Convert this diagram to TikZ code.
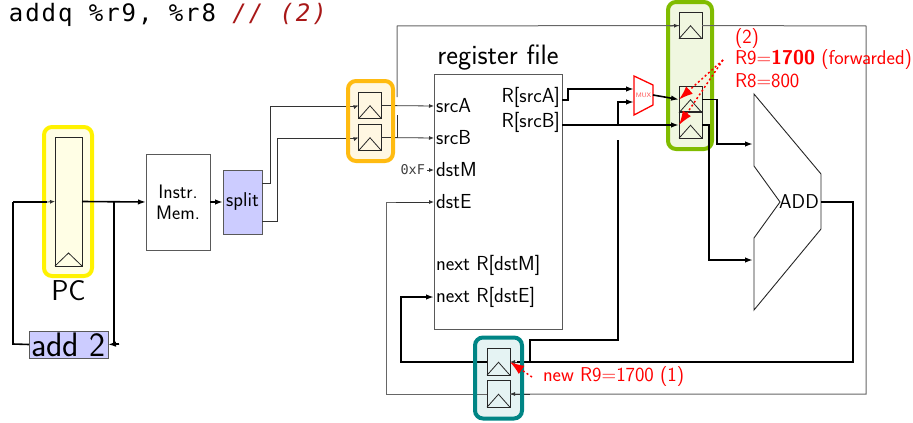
\documentclass[tikz,border=0pt]{standalone}
\usepackage{fontspec}
\usepackage{tikz}
\usetikzlibrary{arrows.meta, positioning, calc}
\setmonofont{DejaVu Sans Mono}
\newfontfamily\codefont[LetterSpace=8]{DejaVu Sans Mono}
\definecolor{aluviolet}{HTML}{CCCCFF}
\definecolor{codered}{HTML}{A81818}
\definecolor{pcyellow}{HTML}{FFF200}
\definecolor{decamber}{HTML}{FFBB11}
\definecolor{exgreen}{HTML}{80BC00}
\definecolor{memteal}{HTML}{008585}
\tikzset{%
	every node/.style={
		font=\sffamily,
		inner sep=0pt,
		outer sep=0pt
	},
	regbox/.style={
		draw=black!85,
		line width=0.8pt,
		minimum width=23pt,
		minimum height=26.5pt
	},
	plainbox/.style={
		draw=black!65,
		line width=0.9pt,
		fill=white,
		align=center
	},
	bluebox/.style={
		draw=black!65,
		line width=0.9pt,
		fill=aluviolet
	},
	stagebox/.style={
		rounded corners=8pt,
		line width=4pt
	},
	portlabel/.style={
		anchor=west,
		font=\sffamily\fontsize{20.3}{22}\selectfont
	},
	redlabel/.style={
		anchor=west,
		text=red,
		font=\sffamily\fontsize{20}{21}\selectfont
	},
	wire/.style={
		draw=black!80,
		line width=0.8pt,
		-{Latex[length=5pt,width=4pt]}
	},
	plainwire/.style={
		draw=black!80,
		line width=0.8pt
	},
	loopwire/.style={
		draw=black!60,
		line width=1pt
	},
	thickwire/.style={
		draw=black,
		line width=1.6pt,
		-{Latex[length=8pt,width=5.5pt]}
	},
	plainthick/.style={
		draw=black,
		line width=1.6pt
	},
	redarrow/.style={
		draw=red,
		line width=1.5pt,
		dash pattern=on 2pt off 2.5pt,
		-{Latex[length=14pt,width=10pt]}
	}
}

\begin{document}
\begin{tikzpicture}[x=1pt,y=-1pt]
	\useasboundingbox (0,0) rectangle (913,423);

	% title line
	\node[anchor=base west] (title) at (9,21) {\codefont\fontsize{24}{24}\selectfont addq \%r9, \%r8 \textcolor{codered}{\itshape // (2)}};

	% stage highlights
	\node[stagebox, draw=pcyellow, fill=pcyellow!10, minimum width=48pt, minimum height=149pt] (pchl) at (68,201.5) {};
	\node[stagebox, fill=decamber!12, minimum width=45pt, minimum height=80pt] (dechl) at (370.5,121) {};
	\node[stagebox, draw=exgreen, fill=exgreen!12, minimum width=44pt, minimum height=147pt] (exhl) at (690,75.5) {};
	\node[stagebox, fill=memteal!10, minimum width=47pt, minimum height=81pt] (memhl) at (498.5,378) {};

	% boxes
	\node[plainbox, minimum width=64pt, minimum height=96pt, font=\sffamily\fontsize{19.5}{21}\selectfont] (imem) at (178,202) {Instr.\\Mem.};
	\node[bluebox, minimum width=39pt, minimum height=64pt, font=\sffamily\fontsize{20}{22}\selectfont] (split) at (242.5,202) {split};
	\node[bluebox, minimum width=79pt, minimum height=27pt, font=\sffamily\fontsize{34}{36}\selectfont] (addtwo) at (68.5,344.5) {add 2};
	\node[plainbox, minimum width=128pt, minimum height=255pt] (regfile) at (498,201.5) {};
	\node[font=\sffamily\fontsize{28}{30}\selectfont] (regtitle) at (498,58) {register file};
	\node (pclabel) at (68.5,291) {\fontsize{28.7}{30}\selectfont PC};

	% register file ports
	\node[portlabel] (srcA) at (436,106) {srcA};
	\node[portlabel] (srcB) at (436,138) {srcB};
	\node[portlabel] (dstM) at (436,170) {dstM};
	\node[portlabel] (dstE) at (436,202) {dstE};
	\node[portlabel] (nextM) at (436,265) {next R[dstM]};
	\node[portlabel] (nextE) at (436,297) {next R[dstE]};
	\node[portlabel, anchor=east] (valA) at (560,97) {R[srcA]};
	\node[portlabel, anchor=east] (valB) at (560,122) {R[srcB]};
	\node[anchor=east, text=black!75, font=\ttfamily\fontsize{13.5}{14}\selectfont] (constF) at (425,170) {0xF};

	% pipeline registers
	\node[regbox, minimum width=27pt, minimum height=129pt] (pcreg) at (68.5,201.5) {};
	\node[regbox] (dec1) at (370,105.5) {};
	\node[regbox] (dec2) at (370,137.5) {};
	\node[regbox] (ex0) at (690.5,25.5) {};
	\node[regbox] (ex1) at (690.5,99.5) {};
	\node[regbox] (ex2) at (690.5,125) {};
	\node[regbox] (mem1) at (498.5,362) {};
	\node[regbox] (mem2) at (498.5,394) {};
	\foreach \r in {pcreg,dec1,dec2,ex0,ex1,ex2,mem1,mem2}
		\draw[plainwire, black!85] (\r.south west) -- ($(\r.south)+(0,-13)$) -- (\r.south east);

	% mux and alu
	\draw[draw=red, line width=1.3pt] (634,76) coordinate (muxa) -- (653,85) -- (653,105) -- (634,115) -- cycle;
	\coordinate (muxin1) at (634,89);
	\coordinate (muxin2) at (634,102);
	\coordinate (muxout) at (653,95);
	\node[text=red!70, font=\sffamily\fontsize{6.5}{7}\selectfont] (muxlabel) at (643.5,95.5) {MUX};
	\draw[black!85, line width=0.9pt] (754,94) -- (821,174) -- (821,229) -- (754,310) -- (754,238) -- (780,202) -- (754,166) -- cycle;
	\node[font=\sffamily\fontsize{20}{22}\selectfont] (addlabel) at (799,202) {ADD};
	\coordinate (aluin1) at (753,144);
	\coordinate (aluin2) at (753,260);
	\coordinate (aluout) at (821,202);

	% thin wires
	\draw[plainwire] (split.east |- 0,183) -- (270,183) -- (270,106) -- (357,106) coordinate (deca);
	\draw[wire] (deca) -- (dec1.west);
	\draw[plainwire] (split.east |- 0,221) -- (277,221) -- (277,138) -- (357,138) coordinate (decb);
	\draw[wire] (decb) -- (dec2.west);
	\draw[wire] (dec1.east) -- (srcA.west -| regfile.west);
	\draw[wire] (dec2.east) -- (srcB.west -| regfile.west);
	\draw[wire, shorten <=2pt] (constF.east) -- (dstM.west -| regfile.west);

	% loop round the pipeline registers
	\draw[plainwire] (397,138) -- (397,115);
	\draw[loopwire] (397,97) -- (397,26) -- (ex0.west);
	\draw[wire] (670,26) -- (ex0.west);
	\draw[loopwire] (ex0.east) -- (866,26) -- (866,394) -- (mem2.east);
	\draw[wire] (530,394) -- (mem2.east);
	\draw[loopwire] (mem2.west) -- (386,394) -- (386,202) -- (396,202) coordinate (dsta);
	\draw[wire] (dsta) -- (dstE.west -| regfile.west);

	% thick wires
	\draw[plainthick] (13,202) -- (13,344) -- (addtwo.west);
	\draw[plainthick] (13,202) -- (47,202) coordinate (pcin);
	\draw[wire] (pcin) -- (pcreg.west);
	\draw[thickwire] (pcreg.east) -- (imem.west);
	\draw[plainthick] (114,202) -- (114,344) coordinate (pcdown) -- (119,344);
	\draw[thickwire] (119,344) -- (addtwo.east);
	\draw[thickwire] (imem.east) -- (split.west);
	\draw[thickwire] (regfile.east |- 0,100) -- (568,100) -- (568,89) -- (muxin1);
	\draw[thickwire] (regfile.east |- ex2.west) -- (ex2.west);
	\draw[thickwire] (618,125) -- (618,102) -- (muxin2);
	\draw[thickwire] (muxout) -- (ex1.west);
	\draw[thickwire] (ex1.east) -- (717,99.5) -- (717,144) -- (aluin1);
	\draw[thickwire] (ex2.east) -- (709,125) -- (709,260) -- (aluin2);
	\draw[plainthick] (aluout) -- (853,202) -- (853,362) -- (530,362) coordinate (memjoin);
	\draw[plainthick] (memjoin) -- (517,362) coordinate (memtip);
	\draw[wire] (memtip) -- (mem1.east);
	\draw[plainthick] (memjoin) -- (530,340) -- (618,340) -- (618,140);
	\draw[plainthick] (mem1.west) -- (401,362) -- (401,297) -- (415,297) coordinate (nexta);
	\draw[thickwire] (nexta) -- (nextE.west -| regfile.west);

	% stage outlines on top of the thin wires
	\draw[stagebox, draw=decamber] (dechl.north west) rectangle (dechl.south east);
	\draw[stagebox, draw=memteal] (memhl.north west) rectangle (memhl.south east);

	% annotations
	\node[redlabel] (newval) at (543,377) {new R9=1700 (1)};
	\node[redlabel] (note2) at (735,39) {(2)};
	\node[redlabel] (noteA) at (735,60) {R9=\textbf{1700} (forwarded)};
	\node[redlabel] (noteB) at (735,81) {R8=800};
	\coordinate (notetail) at (723,60);
	\draw[redarrow] (newval.west) ++(-11,0) -- (mem1.east);
	\draw[redarrow] (notetail) -- (ex1.west);
	\draw[redarrow] (notetail) -- (ex2.west);
\end{tikzpicture}
\end{document}
